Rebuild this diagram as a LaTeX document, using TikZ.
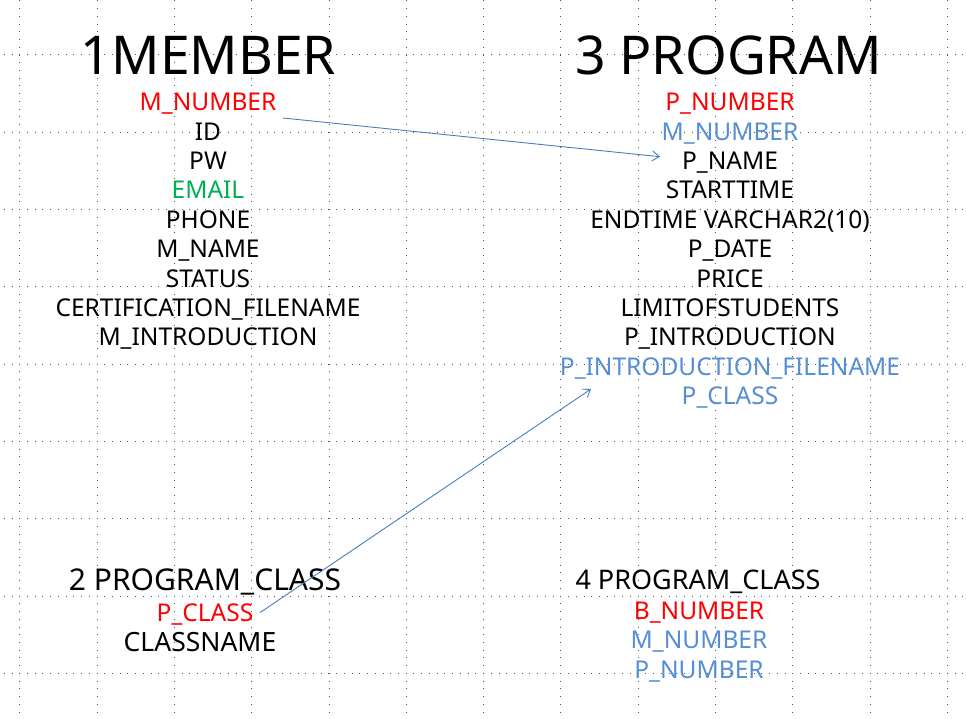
\documentclass[tikz,border=0pt]{standalone}
\usepackage{fontspec}
\setmainfont{Noto Sans}
\usetikzlibrary{arrows.meta,calc}
\definecolor{keyred}{HTML}{FF0000}
\definecolor{fkblue}{HTML}{558ED5}
\definecolor{mailgreen}{HTML}{00B050}
\definecolor{linkblue}{HTML}{4A7EBB}
\definecolor{dotgray}{HTML}{505050}
\tikzset{
  fld/.style={anchor=base, inner sep=0pt, font=\fontsize{24.5}{24.5}\selectfont},
  ttl/.style={anchor=base, inner sep=0pt, font=\fontsize{53.5}{53.5}\selectfont},
  subttl/.style={anchor=base, inner sep=0pt, font=\fontsize{30}{30}\selectfont},
  subttlb/.style={anchor=base, inner sep=0pt, font=\fontsize{27}{27}\selectfont},
  pk/.style={text=keyred},
  fk/.style={text=fkblue},
  grn/.style={text=mailgreen},
  link/.style={draw=linkblue, line width=0.9pt, -{Straight Barb[length=7pt,width=10pt]}},
  gridline/.style={draw=dotgray, line width=1pt, dash pattern=on 1pt off 6.73pt}
}
\begin{document}
\begin{tikzpicture}[x=1pt,y=-1pt]
\useasboundingbox (0,0) rectangle (966,719);
\fill[white] (0,0) rectangle (966,719);
% dotted grid
\foreach \k in {0,...,12}{
  \draw[gridline] ({19.8+77.3*\k},0.4) -- ({19.8+77.3*\k},716);
}
\foreach \k in {0,...,8}{
  \draw[gridline] (3.8,{55+77.3*\k}) -- (966,{55+77.3*\k});
}
% 1 MEMBER
\node[ttl] (mtitle) at (208.5,75) {1MEMBER};
\node[fld,pk]  (m1) at (208,110.7) {M\_NUMBER};
\node[fld]     (m2) at (208,140.1) {ID};
\node[fld]     (m3) at (208,169.5) {PW};
\node[fld,grn] (m4) at (208,198.9) {EMAIL};
\node[fld]     (m5) at (208,228.3) {PHONE};
\node[fld]     (m6) at (208,257.7) {M\_NAME};
\node[fld]     (m7) at (208,287.1) {STATUS};
\node[fld]     (m8) at (208,316.5) {CERTIFICATION\_FILENAME};
\node[fld]     (m9) at (208,345.9) {M\_INTRODUCTION};
% 3 PROGRAM
\node[ttl] (ptitle) at (728.5,75) {3 PROGRAM};
\node[fld,pk] (p1) at (730,110.7) {P\_NUMBER};
\node[fld,fk] (p2) at (730,140.1) {M\_NUMBER};
\node[fld]    (p3) at (730,169.5) {P\_NAME};
\node[fld]    (p4) at (730,198.9) {STARTTIME};
\node[fld]    (p5) at (730,228.3) {ENDTIME VARCHAR2(10)};
\node[fld]    (p6) at (730,257.7) {P\_DATE};
\node[fld]    (p7) at (730,287.1) {PRICE};
\node[fld]    (p8) at (730,316.5) {LIMITOFSTUDENTS};
\node[fld]    (p9) at (730,345.9) {P\_INTRODUCTION};
\node[fld,fk] (p10) at (730,375.3) {P\_INTRODUCTION\_FILENAME};
\node[fld,fk] (p11) at (730,404.7) {P\_CLASS};
% 2 PROGRAM_CLASS
\node[subttl] (ctitle) at (205,590.7) {2 PROGRAM\_CLASS};
\node[fld,pk] (c1) at (205,621.7) {P\_CLASS};
\node[fld,font=\fontsize{26.5}{26.5}\selectfont] (c2) at (200,651.7) {CLASSNAME};
% 4 PROGRAM_CLASS
\node[subttlb] (dtitle) at (698,589.3) {4 PROGRAM\_CLASS};
\node[fld,pk] (d1) at (699,619.3) {B\_NUMBER};
\node[fld,fk] (d2) at (699,648.7) {M\_NUMBER};
\node[fld,fk] (d3) at (699,678.1) {P\_NUMBER};
% connectors
\coordinate (a1s) at ([xshift=75pt,yshift=-7.3pt]m1.base);
\coordinate (a1e) at ([xshift=-70pt,yshift=12.8pt]p3.base);
\draw[link] (a1s) -- (a1e);
\coordinate (a2s) at ([xshift=55pt,yshift=9.1pt]c1.base);
\coordinate (a2e) at ([xshift=-139pt,yshift=-13.7pt]p10.base);
\draw[link] (a2s) -- (a2e);
\end{tikzpicture}
\end{document}
